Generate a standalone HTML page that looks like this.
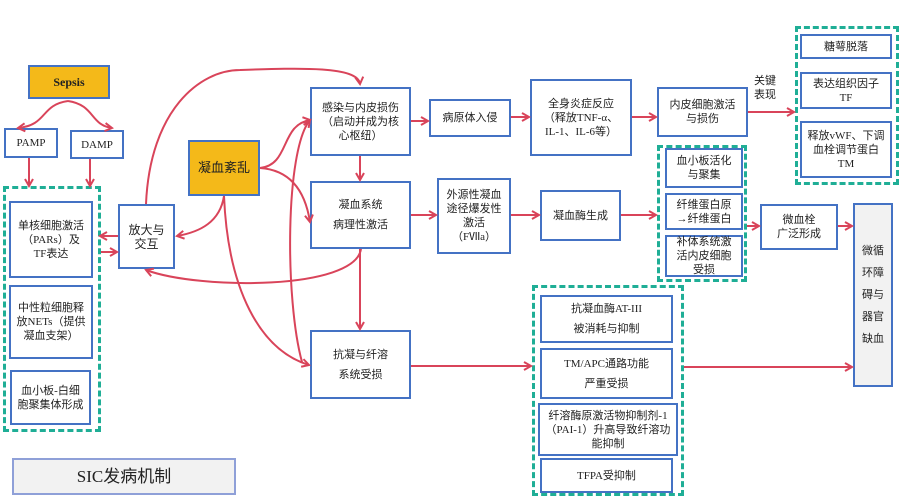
<!DOCTYPE html>
<html><head><meta charset="utf-8"><style>
body{margin:0;width:900px;height:500px;background:#fff;position:relative;overflow:hidden;font-family:"Liberation Serif","Noto Sans CJK SC",sans-serif;color:#222}
.b{position:absolute;box-sizing:border-box;border:2px solid #4472C4;background:#fff;display:flex;align-items:center;justify-content:center;text-align:center;font-size:11px;line-height:14px;padding:0 5px}
.d{position:absolute;box-sizing:border-box;border:3px dashed #1FAE96}
.y{background:#F4B919}
svg{position:absolute;left:0;top:0}
</style></head><body>
<div class="d" style="left:3px;top:186px;width:98px;height:246px"></div>
<div class="d" style="left:795px;top:26px;width:104px;height:159px"></div>
<div class="d" style="left:657px;top:145px;width:90px;height:137px"></div>
<div class="d" style="left:532px;top:285px;width:152px;height:211px"></div>

<div class="b y" style="left:28px;top:65px;width:82px;height:34px;font-weight:bold;font-size:12px">Sepsis</div>
<div class="b" style="left:4px;top:128px;width:54px;height:30px">PAMP</div>
<div class="b" style="left:70px;top:130px;width:54px;height:29px">DAMP</div>
<div class="b" style="left:9px;top:201px;width:84px;height:77px">单核细胞激活（PARs）及TF表达</div>
<div class="b" style="left:9px;top:285px;width:84px;height:74px">中性粒细胞释放NETs（提供凝血支架）</div>
<div class="b" style="left:10px;top:370px;width:81px;height:55px">血小板-白细胞聚集体形成</div>
<div class="b" style="left:118px;top:204px;width:57px;height:65px;font-size:12px">放大与<br>交互</div>
<div class="b y" style="left:188px;top:140px;width:72px;height:56px;font-size:13px">凝血紊乱</div>
<div class="b" style="left:310px;top:87px;width:101px;height:69px">感染与内皮损伤（启动并成为核心枢纽）</div>
<div class="b" style="left:429px;top:99px;width:82px;height:38px">病原体入侵</div>
<div class="b" style="left:530px;top:79px;width:102px;height:77px">全身炎症反应<br>（释放TNF-α、<br>IL-1、IL-6等）</div>
<div class="b" style="left:657px;top:87px;width:91px;height:50px">内皮细胞激活<br>与损伤</div>
<div style="position:absolute;left:754px;top:74px;font-size:11px;line-height:14px">关键<br>表现</div>
<div class="b" style="left:800px;top:34px;width:92px;height:25px">糖萼脱落</div>
<div class="b" style="left:800px;top:72px;width:92px;height:37px">表达组织因子<br>TF</div>
<div class="b" style="left:800px;top:121px;width:92px;height:57px">释放vWF、下调血栓调节蛋白TM</div>
<div class="b" style="left:310px;top:181px;width:101px;height:68px;line-height:20px">凝血系统<br>病理性激活</div>
<div class="b" style="left:437px;top:178px;width:74px;height:76px">外源性凝血途径爆发性激活（FⅦa）</div>
<div class="b" style="left:540px;top:190px;width:81px;height:51px">凝血酶生成</div>
<div class="b" style="left:665px;top:148px;width:78px;height:40px">血小板活化<br>与聚集</div>
<div class="b" style="left:665px;top:193px;width:78px;height:37px">纤维蛋白原<br>→纤维蛋白</div>
<div class="b" style="left:665px;top:235px;width:78px;height:42px">补体系统激活内皮细胞受损</div>
<div class="b" style="left:760px;top:204px;width:78px;height:46px">微血栓<br>广泛形成</div>
<div class="b" style="left:853px;top:203px;width:40px;height:184px;background:#F2F2F2;line-height:22px">微循<br>环障<br>碍与<br>器官<br>缺血</div>
<div class="b" style="left:310px;top:330px;width:101px;height:69px;line-height:20px">抗凝与纤溶<br>系统受损</div>
<div class="b" style="left:540px;top:295px;width:133px;height:48px;line-height:20px">抗凝血酶AT-III<br>被消耗与抑制</div>
<div class="b" style="left:540px;top:348px;width:133px;height:51px;line-height:20px">TM/APC通路功能<br>严重受损</div>
<div class="b" style="left:538px;top:403px;width:140px;height:53px">纤溶酶原激活物抑制剂-1（PAI-1）升高导致纤溶功能抑制</div>
<div class="b" style="left:540px;top:458px;width:133px;height:35px">TFPA受抑制</div>
<div class="b" style="left:12px;top:458px;width:224px;height:37px;background:#F2F2F2;border-color:#8FA0D8;font-size:17px">SIC发病机制</div>

<svg width="900" height="500" fill="none" stroke="#D9445A" stroke-width="2">
<defs><marker id="a" markerWidth="10" markerHeight="10" refX="8" refY="5" orient="auto" markerUnits="userSpaceOnUse"><path d="M1,1 L8,5 L1,9" stroke="#D9445A" stroke-width="2" fill="none"/></marker></defs>
<g marker-end="url(#a)">
<path d="M68,101 C40,105 48,125 18,128"/>
<path d="M68,101 C95,105 90,125 112,128"/>
<path d="M29,158 V186"/>
<path d="M90,159 V186"/>
<path d="M118,236 H100"/>
<path d="M101,252 H117"/>
<path d="M146,204 C150,110 200,70 240,70 C300,68 358,66 360,84"/>
<path d="M260,168 C290,165 280,125 310,120"/>
<path d="M260,168 C290,170 305,190 310,222"/>
<path d="M224,196 C220,222 200,232 177,236"/>
<path d="M224,196 C228,290 260,350 309,365"/>
<path d="M302,362 C285,300 285,150 310,120"/>
<path d="M361,249 C355,290 200,290 146,270"/>
<path d="M411,121 H428"/>
<path d="M511,117 H529"/>
<path d="M632,117 H656"/>
<path d="M748,112 H794"/>
<path d="M360,156 V180"/>
<path d="M411,215 H436"/>
<path d="M511,215 H539"/>
<path d="M621,215 H656"/>
<path d="M747,226 H759"/>
<path d="M838,226 H852"/>
<path d="M360,249 V329"/>
<path d="M411,366 H531"/>
<path d="M684,367 H852"/>
</g>
</svg>
</body></html>
